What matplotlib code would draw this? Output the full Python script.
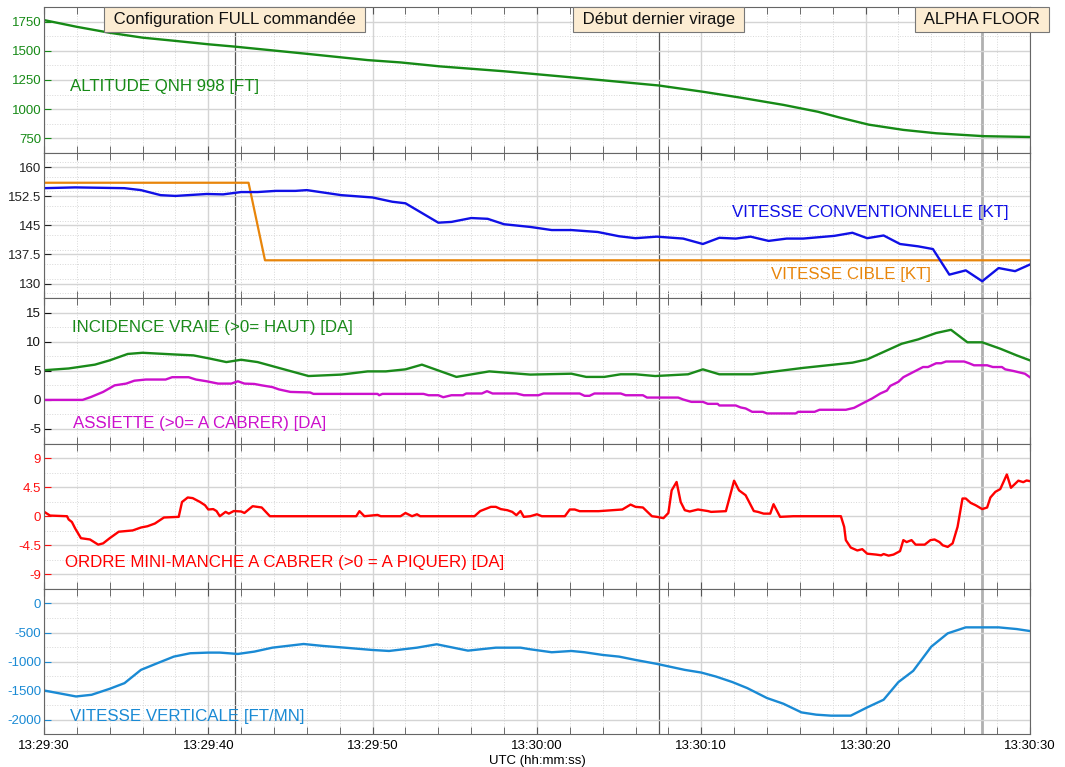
import numpy as np
import matplotlib.pyplot as plt
from matplotlib.ticker import FixedLocator, MultipleLocator

plt.rcParams['font.family'] = ['Liberation Sans', 'DejaVu Sans']

# temps en secondes depuis 13:29:30
x_ticks = [0, 10, 20, 30, 40, 50, 60]
x_labels = ['13:29:30', '13:29:40', '13:29:50', '13:30:00', '13:30:10', '13:30:20', '13:30:30']

event_t = [11.6, 37.4, 57.1]
event_names = ['Configuration FULL commandée', 'Début dernier virage', 'ALPHA FLOOR']

t_alt = [0, 2.0, 4.0, 6.0, 8.0, 10.0, 11.6, 16.0, 19.7, 21.7, 24.1, 28.0, 32.0, 37.4, 40.1,
         42.4, 45.0, 47.1, 48.4, 50.2, 52.3, 54.3, 57.2, 60]
alt = [1765, 1707, 1656, 1614, 1586, 1557, 1537, 1475, 1421, 1401, 1367, 1325, 1274, 1203, 1149,
       1098, 1036, 977, 928, 866, 821, 792, 767, 760]

t_cas = [0, 1.9, 4.9, 5.9, 7.1, 8.0, 9.9, 10.9, 12.0, 13.0, 14.1, 15.3, 16.0, 18.1, 20.0, 21.2,
         22.0, 24.0, 24.8, 26.0, 27.0, 28.0, 29.6, 30.9, 32.1, 33.7, 35.0, 36.0, 37.3, 38.9, 40.1,
         41.1, 42.1, 43.0, 44.1, 45.2, 46.2, 48.1, 49.2, 50.1, 51.1, 52.1, 53.2, 54.1, 55.1, 56.1,
         57.1, 58.1, 59.1, 60]
cas = [154.6, 154.8, 154.6, 154.1, 152.8, 152.6, 153.1, 153.0, 153.6, 153.6, 153.9, 153.9, 154.1,
       152.8, 152.2, 151.1, 150.7, 145.7, 145.9, 146.9, 146.7, 145.3, 144.6, 143.8, 143.8, 143.3,
       142.2, 141.7, 142.1, 141.6, 140.2, 141.8, 141.6, 142.1, 141.0, 141.6, 141.6, 142.3, 143.1,
       141.7, 142.4, 140.2, 139.6, 138.9, 132.3, 133.4, 130.6, 134.0, 133.2, 134.9]

t_cible = [0, 12.45, 13.45, 60]
cible = [156, 156, 136, 136]

t_inc = [0, 1.5, 3.1, 4.0, 5.1, 6.0, 8.0, 9.1, 10.1, 11.1, 12.0, 13.0, 16.1, 18.1, 19.7, 20.8,
         22.0, 23.0, 25.1, 27.1, 29.6, 32.1, 33.0, 34.1, 35.1, 36.0, 37.2, 39.2, 40.1, 41.1, 43.1,
         46.2, 49.2, 50.1, 52.2, 53.2, 54.3, 55.2, 56.2, 57.1, 58.2, 59.2, 60]
inc = [5.1, 5.4, 6.06, 6.8, 7.9, 8.1, 7.8, 7.65, 7.1, 6.5, 6.9, 6.5, 4.1, 4.35, 4.9, 4.9, 5.25,
       6.06, 3.95, 4.9, 4.35, 4.5, 3.95, 3.95, 4.4, 4.4, 4.1, 4.4, 5.25, 4.4, 4.4, 5.5, 6.4, 6.97,
       9.65, 10.4, 11.5, 12.05, 9.9, 9.9, 8.8, 7.65, 6.8]

t_ass = [0, 2.35, 2.86, 3.6, 4.3, 5.0, 5.5, 6.2, 7.4, 7.8, 8.8, 9.25, 9.9, 10.6, 11.4, 11.8, 12.2,
         12.8, 13.25, 13.9, 14.3, 15.0, 16.2, 16.4, 20.3, 20.4, 20.6, 23.1, 23.4, 24.0, 24.3, 24.8,
         25.5, 25.7, 26.65, 26.96, 27.3, 28.75, 29.2, 30.1, 30.4, 32.6, 32.9, 33.2, 33.5, 35.1,
         35.4, 36.45, 36.7, 38.6, 38.9, 39.4, 40.1, 40.4, 41.0, 41.1, 42.1, 42.4, 42.7, 43.1, 43.75,
         44.0, 45.75, 45.9, 46.9, 47.2, 48.8, 49.3, 50.0, 50.4, 50.9, 51.3, 51.5, 52.0, 52.3, 53.5,
         53.8, 54.3, 54.6, 54.9, 56.0, 56.3, 56.6, 57.4, 57.75, 58.3, 58.5, 59.0, 59.4, 59.7, 60]
ass = [0, 0, 0.5, 1.37, 2.5, 2.8, 3.3, 3.5, 3.5, 3.9, 3.9, 3.5, 3.2, 2.8, 2.8, 3.2, 2.8, 2.74,
       2.5, 2.2, 1.8, 1.37, 1.27, 1.03, 1.03, 0.8, 1.03, 1.03, 0.8, 0.8, 0.46, 0.8, 0.8, 1.1, 1.1,
       1.5, 1.1, 1.1, 0.8, 0.8, 1.1, 1.1, 0.7, 0.7, 1.1, 1.1, 0.8, 0.8, 0.4, 0.4, 0.07, -0.34,
       -0.34, -0.68, -0.68, -0.96, -0.96, -1.3, -1.47, -2.05, -2.05, -2.33, -2.33, -2.05, -2.05,
       -1.7, -1.7, -1.37, -0.34, 0.24, 1.1, 1.6, 2.4, 3.1, 3.9, 5.65, 5.65, 6.3, 6.3, 6.6, 6.6,
       6.3, 5.95, 5.95, 5.65, 5.65, 5.25, 4.97, 4.7, 4.5, 3.9]

t_ordre = [0, 0.37, 1.3, 1.4, 1.5, 1.7, 1.9, 2.25, 2.8, 3.3, 3.6, 4.0, 4.55, 5.4, 5.9, 6.3, 6.75,
           7.3, 8.2, 8.4, 8.75, 9.05, 9.5, 9.8, 10.0, 10.3, 10.5, 10.7, 11.05, 11.25, 11.55, 12.0,
           12.2, 12.7, 13.25, 13.75, 19.0, 19.2, 19.5, 20.3, 20.5, 21.7, 22.0, 22.4, 22.7, 22.9,
           26.2, 26.55, 27.2, 27.5, 27.8, 28.2, 28.5, 28.75, 29.0, 29.2, 29.6, 30.0, 30.3, 31.7,
           32.0, 32.3, 32.6, 33.75, 35.2, 35.7, 36.0, 36.45, 37.0, 37.3, 37.7, 38.0, 38.2, 38.5,
           38.75, 39.0, 39.3, 39.8, 40.4, 40.6, 41.5, 42.0, 42.3, 42.7, 43.2, 43.45, 43.8, 44.2,
           44.4, 44.8, 45.6, 48.5, 48.7, 48.8, 49.1, 49.5, 49.8, 50.1, 50.65, 50.95, 51.1, 51.4,
           51.7, 52.1, 52.3, 52.5, 52.8, 53.05, 53.6, 53.95, 54.2, 54.5, 54.7, 55.0, 55.3, 55.6,
           55.9, 56.1, 56.4, 56.7, 57.1, 57.4, 57.6, 57.9, 58.2, 58.6, 58.85, 59.3, 59.6, 59.8, 60]
ordre = [0.7, 0.1, 0, 0, -0.5, -0.9, -1.9, -3.4, -3.6, -4.4, -4.2, -3.4, -2.4, -2.2, -1.75, -1.55,
         -1.13, -0.2, -0.1, 2.2, 2.9, 2.8, 2.2, 1.7, 1.04, 1.1, 0.8, 0, 0.67, 0.4, 0.8, 0.73, 0.5,
         1.55, 1.35, 0, 0, 0.78, 0, 0.2, 0, 0, 0.5, 0, 0.3, 0, 0, 0.8, 1.45, 1.45, 1.1, 0.93, 0.67,
         0.16, 0.8, -0.1, 0, 0.3, 0, 0, 1.04, 1.04, 0.78, 0.78, 1.04, 1.8, 1.45, 1.35, 0, -0.1, -0.3,
         0.5, 4.0, 5.3, 2.2, 0.93, 0.73, 1.04, 0.8, 0.67, 0.78, 5.5, 4.0, 3.25, 0.8, 0.67, 0.4, 0.4,
         1.86, -0.1, 0, 0, -1.65, -3.7, -4.85, -5.3, -5.1, -5.8, -5.94, -6.05, -5.85, -6.1, -5.94,
         -5.4, -3.7, -4.0, -3.7, -4.4, -4.4, -3.7, -3.6, -4.0, -4.5, -4.75, -4.2, -1.65, 2.74, 2.74,
         2.06, 1.7, 1.1, 1.35, 2.9, 3.77, 4.2, 6.46, 4.4, 5.5, 5.27, 5.53, 5.43]

t_vz = [0, 1.95, 2.9, 4.0, 4.9, 5.9, 6.9, 7.9, 8.9, 10.0, 10.7, 11.8, 12.8, 13.9, 15.8, 17.0,
        18.3, 20.0, 21.0, 22.7, 23.9, 25.8, 27.5, 29.0, 29.6, 30.9, 32.1, 32.9, 34.0, 35.0, 36.0,
        37.3, 39.0, 40.0, 40.9, 41.9, 42.8, 44.0, 45.0, 46.1, 47.0, 47.9, 49.1, 50.1, 51.1, 52.0,
        52.9, 54.0, 55.0, 56.1, 58.1, 59.2, 60]
vz = [-1496, -1599, -1570, -1467, -1370, -1142, -1027, -914, -856, -845, -845, -868, -828, -760,
      -697, -731, -760, -800, -817, -760, -702, -811, -760, -760, -788, -839, -817, -839, -885,
      -914, -971, -1039, -1142, -1188, -1257, -1352, -1455, -1626, -1724, -1873, -1912, -1929,
      -1929, -1787, -1655, -1352, -1159, -743, -514, -411, -411, -440, -474]

yticks = [[750, 1000, 1250, 1500, 1750],
          [130, 137.5, 145, 152.5, 160],
          [-5, 0, 5, 10, 15],
          [-9, -4.5, 0, 4.5, 9],
          [-2000, -1500, -1000, -500, 0]]
tick_colors = ['#168a16', '#222222', '#111111', '#ff1010', '#1a8ad4']
lbl_size = 12.2

fig = plt.figure(figsize=(10.65, 7.67), dpi=100)
axes = fig.subplots(5, 1, sharex=True)
fig.subplots_adjust(left=0.0413, right=0.967, top=0.9905, bottom=0.0426, hspace=0)

for i, ax in enumerate(axes):
    tk = yticks[i]
    step = tk[1] - tk[0]
    ax.set_ylim(tk[0] - step / 2, tk[-1] + step / 2)
    ax.yaxis.set_major_locator(FixedLocator(tk))
    ax.yaxis.set_minor_locator(MultipleLocator(step / 2))
    ax.set_yticklabels([f'{v:g}' for v in tk])
    ax.set_xlim(0, 60)
    ax.xaxis.set_major_locator(FixedLocator(x_ticks))
    ax.xaxis.set_minor_locator(MultipleLocator(2))
    ax.grid(which='major', color='#d4d4d4', linewidth=1)
    ax.grid(which='minor', color='#d8d8d8', linewidth=0.7, linestyle=':')
    ax.tick_params(axis='x', which='both', direction='in', top=True, bottom=True,
                   length=5, color='#555555')
    ax.tick_params(axis='y', which='major', direction='in', length=5,
                   color=tick_colors[i], labelcolor=tick_colors[i], labelsize=9.5, pad=2)
    ax.tick_params(axis='y', which='minor', length=0)
    for s in ax.spines.values():
        s.set_color('#666666')
    for k, te in enumerate(event_t):
        ax.axvline(te, color='#b0b0b0' if k == 2 else '#555555',
                   linewidth=2 if k == 2 else 0.9, zorder=1.5)

axes[0].plot(t_alt, alt, color='#168a16', linewidth=1.7)
axes[0].text(0.026, 0.456, 'ALTITUDE QNH 998 [FT]', color='#168a16', fontsize=lbl_size,
             transform=axes[0].transAxes, va='center')

axes[1].plot(t_cible, cible, color='#e8850a', linewidth=1.6)
axes[1].plot(t_cas, cas, color='#1010e6', linewidth=1.7)
axes[1].text(0.978, 0.588, 'VITESSE CONVENTIONNELLE [KT]', color='#1010e6', fontsize=lbl_size,
             transform=axes[1].transAxes, va='center', ha='right')
axes[1].text(0.9, 0.161, 'VITESSE CIBLE [KT]', color='#e8850a', fontsize=lbl_size,
             transform=axes[1].transAxes, va='center', ha='right')

axes[2].plot(t_inc, inc, color='#1a8a1a', linewidth=1.7)
axes[2].plot(t_ass, ass, color='#cc10cc', linewidth=1.7)
axes[2].text(0.028, 0.796, 'INCIDENCE VRAIE (>0= HAUT) [DA]', color='#1a8a1a', fontsize=lbl_size,
             transform=axes[2].transAxes, va='center')
axes[2].text(0.029, 0.135, 'ASSIETTE (>0= A CABRER) [DA]', color='#cc10cc', fontsize=lbl_size,
             transform=axes[2].transAxes, va='center')

axes[3].plot(t_ordre, ordre, color='#ff0000', linewidth=1.7)
axes[3].text(0.021, 0.185, 'ORDRE MINI-MANCHE A CABRER (>0 = A PIQUER) [DA]', color='#ff0000',
             fontsize=lbl_size, transform=axes[3].transAxes, va='center')

axes[4].plot(t_vz, vz, color='#1a8ad4', linewidth=1.7)
axes[4].text(0.026, 0.124, 'VITESSE VERTICALE [FT/MN]', color='#1a8ad4', fontsize=lbl_size,
             transform=axes[4].transAxes, va='center')
axes[4].set_xticklabels(x_labels)
axes[4].tick_params(axis='x', labelsize=9.5, pad=4)
axes[4].set_xlabel('UTC (hh:mm:ss)', fontsize=9.5, labelpad=2)

# cartouches des evenements, centres sur les traits verticaux
for te, name in zip(event_t, event_names):
    axes[0].annotate(' ' + name + ' ', xy=(te, 1.0), xycoords=axes[0].get_xaxis_transform(),
                     xytext=(0, -5), textcoords='offset pixels', ha='center', va='top',
                     fontsize=12.1, color='#111111', annotation_clip=False, zorder=5,
                     bbox=dict(boxstyle='square,pad=0.3', facecolor='#fcecd2',
                               edgecolor='#777777', linewidth=0.8))

fig.savefig('out.png', dpi=100)
